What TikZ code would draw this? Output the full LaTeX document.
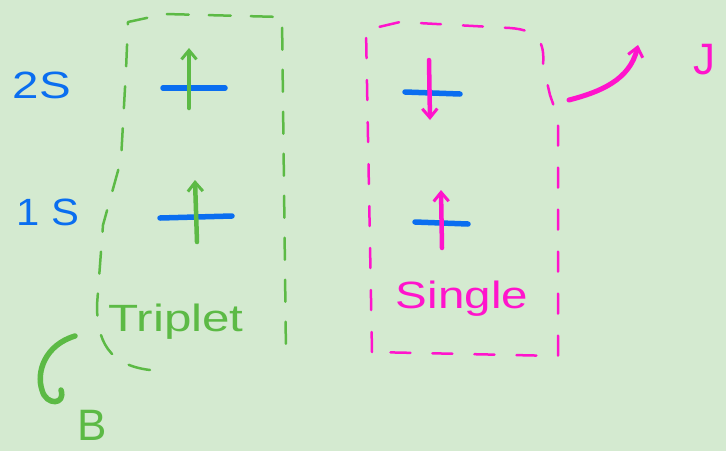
\documentclass[tikz,border=0pt]{standalone}
\usepackage{fontspec}
\setmainfont{Liberation Sans}
\usetikzlibrary{arrows.meta}
\definecolor{bg}{HTML}{D4EAD0}
\definecolor{pblue}{HTML}{0A6EF0}
\definecolor{pgreen}{HTML}{5CBA45}
\definecolor{pmag}{HTML}{FF14CC}
\begin{document}
\begin{tikzpicture}[x=1pt,y=-1pt,line cap=round,line join=round,
  level/.style={pblue,line width=5.5pt},
  gspin/.style={pgreen,line width=4.5pt,-{Straight Barb[length=9pt,width=15pt,line width=3pt]}},
  mspin/.style={pmag,line width=4.5pt,-{Straight Barb[length=9pt,width=15pt,line width=3pt]}},
  gbox/.style={pgreen,line width=2.5pt,dash pattern=on 22pt off 20pt},
  mbox/.style={pmag,line width=2.5pt,dash pattern=on 20pt off 22pt},
  lab/.style={inner sep=0pt,anchor=center,font=\fontsize{38}{38}\selectfont},
]
\fill[bg] (0,0) rectangle (726,451);
\useasboundingbox (0,0) rectangle (726,451);

% labels
\node[lab,pblue,xscale=1.25] (l2s) at (42,85) {2S};
\node[lab,pblue,xscale=1.1] (l1s) at (48,212) {1 S};
\node[lab,pgreen,xscale=1.3] (trip) at (176,322) {Triplet};
\node[lab,pmag,xscale=1.25] (sing) at (462,299) {Single};
\node[lab,pmag,font=\fontsize{44}{44}\selectfont] (jl) at (704,60) {J};
\node[lab,pgreen,font=\fontsize{44}{44}\selectfont] (bl) at (92,425) {B};

% triplet box
\draw[gbox] (150,370) .. controls (108,365) and (97,340) .. (97,305)
  -- (103,225) -- (121,160) -- (126,70) -- (128,22) -- (165,14) -- (282,17) -- (286,355);

% triplet levels
\coordinate (t2a) at (163,88); \coordinate (t2b) at (225,88);
\coordinate (t1a) at (160,218); \coordinate (t1b) at (232,216);
\draw[level] (t2a) -- (t2b);
\draw[level] (t1a) -- (t1b);
\coordinate (g2s) at (189,108); \coordinate (g2e) at (189,48);
\coordinate (g1s) at (197,242); \coordinate (g1e) at (195,180);
\draw[gspin] (g2s) -- (g2e);
\draw[gspin] (g1s) -- (g1e);

% singlet box
\draw[mbox] (372,352) -- (366,30) -- (400,22) -- (510,28)
  .. controls (538,30) and (545,42) .. (543,65) -- (550,95) -- (558,118)
  -- (558,356) -- cycle;

% singlet levels
\coordinate (s2a) at (405,92); \coordinate (s2b) at (460,94);
\coordinate (s1a) at (415,222); \coordinate (s1b) at (468,224);
\draw[level] (s2a) -- (s2b);
\draw[level] (s1a) -- (s1b);
\coordinate (m2s) at (429,60); \coordinate (m2e) at (430,120);
\coordinate (m1s) at (442,248); \coordinate (m1e) at (441,190);
\draw[mspin] (m2s) -- (m2e);
\draw[mspin] (m1s) -- (m1e);

% J arrow
\coordinate (js) at (569,100);
\coordinate (je) at (638,45);
\draw[mspin,line width=5pt] (js) .. controls (600,92) and (630,80) .. (je);

% B hook
\coordinate (bs) at (75,336);
\coordinate (be) at (61,390);
\draw[pgreen,line width=5.5pt] (bs) .. controls (45,345) and (36,372) .. (42,390)
  .. controls (46,406) and (66,405) .. (be);
\end{tikzpicture}
\end{document}
